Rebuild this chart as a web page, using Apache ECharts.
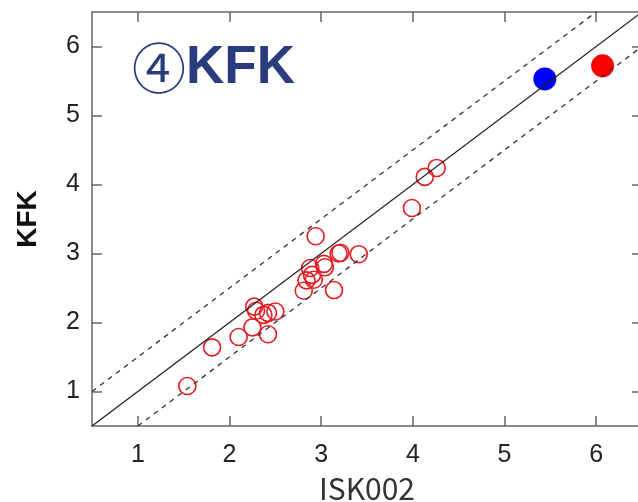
<!DOCTYPE html>
<html>
<head>
<meta charset="utf-8">
<script src="https://cdn.jsdelivr.net/npm/echarts@6/dist/echarts.min.js"></script>
<style>
  html, body { margin: 0; padding: 0; background: #ffffff; }
  #chart { width: 638px; height: 502px; }
</style>
</head>
<body>
<div id="chart"></div>
<script>
// Paired measurements: ISK002 (x) vs KFK (y)
const isk002Values = [1.54, 1.81, 2.10, 2.25, 2.42, 2.27, 2.29, 2.37, 2.42, 2.50,
                      2.81, 2.84, 2.92, 2.90, 2.88, 3.03, 3.04, 3.14, 2.94, 3.19,
                      3.21, 3.41, 3.99, 4.13, 4.26];
const kfkValues    = [1.08, 1.64, 1.79, 1.93, 1.83, 2.23, 2.17, 2.11, 2.14, 2.16,
                      2.46, 2.61, 2.62, 2.69, 2.79, 2.85, 2.80, 2.47, 3.25, 3.00,
                      3.01, 2.99, 3.66, 4.11, 4.24];

// Two highlighted points
const bluePoint = [5.44, 5.53];
const redPoint  = [6.07, 5.72];

// Axis range and tick labels
const axisMin = 0.5;
const axisMax = 6.5;
const tickValues = [1, 2, 3, 4, 5, 6];

// 1:1 line and ±0.5 band
const identityLine = [[0.5, 0.5], [6.5, 6.5]];
const upperBand = [[0.5, 1.0], [6.0, 6.5]];
const lowerBand = [[1.0, 0.5], [6.5, 6.0]];

const chart = echarts.init(document.getElementById('chart'), null, { renderer: 'canvas' });

const axisLineStyle = { color: '#666666', width: 1.5 };
const labelFont = { fontFamily: 'Liberation Sans', fontSize: 25, color: '#222222' };

function mainAxis(extra) {
  return Object.assign({
    type: 'value',
    min: axisMin,
    max: axisMax,
    splitLine: { show: false },
    axisLine: { show: true, onZero: false, lineStyle: axisLineStyle },
    axisTick: { show: true, inside: true, length: 10, customValues: tickValues,
                lineStyle: axisLineStyle },
    axisLabel: Object.assign({ show: true, customValues: tickValues }, labelFont)
  }, extra);
}

function mirrorAxis(extra) {
  return Object.assign({
    type: 'value',
    min: axisMin,
    max: axisMax,
    splitLine: { show: false },
    axisLine: { show: true, onZero: false, lineStyle: axisLineStyle },
    axisTick: { show: true, inside: true, length: 10, customValues: tickValues,
                lineStyle: axisLineStyle },
    axisLabel: { show: false }
  }, extra);
}

const option = {
  animation: false,
  backgroundColor: '#ffffff',
  title: {
    text: '{c|④}{k|KFK}',
    left: 127,
    top: 36,
    textStyle: {
      rich: {
        c: { fontFamily: 'Noto Sans CJK JP', fontSize: 54, fontWeight: 'normal', color: '#283c7e' },
        k: { fontFamily: 'Liberation Sans', fontSize: 53, fontWeight: 'bold', color: '#283c7e' }
      }
    }
  },
  grid: { left: 92, right: -4, top: 12, bottom: 76, containLabel: false, outerBoundsMode: 'none' },
  xAxis: [
    mainAxis({
      position: 'bottom',
      name: 'ISK002',
      nameLocation: 'middle',
      nameGap: 48,
      nameTextStyle: { fontFamily: 'Noto Sans CJK JP', fontSize: 30, color: '#333333' },
      axisLabel: Object.assign({ show: true, customValues: tickValues, margin: 17 }, labelFont)
    }),
    mirrorAxis({ position: 'top' })
  ],
  yAxis: [
    mainAxis({
      position: 'left',
      name: 'KFK',
      nameLocation: 'middle',
      nameGap: 50,
      nameTextStyle: { fontFamily: 'Liberation Sans', fontSize: 28, fontWeight: 'bold', color: '#111111' },
      axisLabel: Object.assign({ show: true, customValues: tickValues, margin: 12 }, labelFont)
    }),
    mirrorAxis({ position: 'right' })
  ],
  series: [
    {
      type: 'line', data: identityLine, symbol: 'none', silent: true,
      lineStyle: { color: '#222222', width: 1.3 }
    },
    {
      type: 'line', data: upperBand, symbol: 'none', silent: true,
      lineStyle: { color: '#333333', width: 1.3, type: [5, 5] }
    },
    {
      type: 'line', data: lowerBand, symbol: 'none', silent: true,
      lineStyle: { color: '#333333', width: 1.3, type: [5, 5] }
    },
    {
      type: 'scatter',
      data: isk002Values.map((x, i) => [x, kfkValues[i]]),
      symbol: 'circle',
      symbolSize: 17,
      itemStyle: { color: 'rgba(0,0,0,0)', borderColor: '#e51c23', borderWidth: 1.6, opacity: 1 }
    },
    {
      type: 'scatter', data: [bluePoint], symbol: 'circle', symbolSize: 23,
      itemStyle: { color: '#0000ff', opacity: 1 }
    },
    {
      type: 'scatter', data: [redPoint], symbol: 'circle', symbolSize: 23,
      itemStyle: { color: '#ff0000', opacity: 1 }
    }
  ]
};

chart.setOption(option);
</script>
</body>
</html>
